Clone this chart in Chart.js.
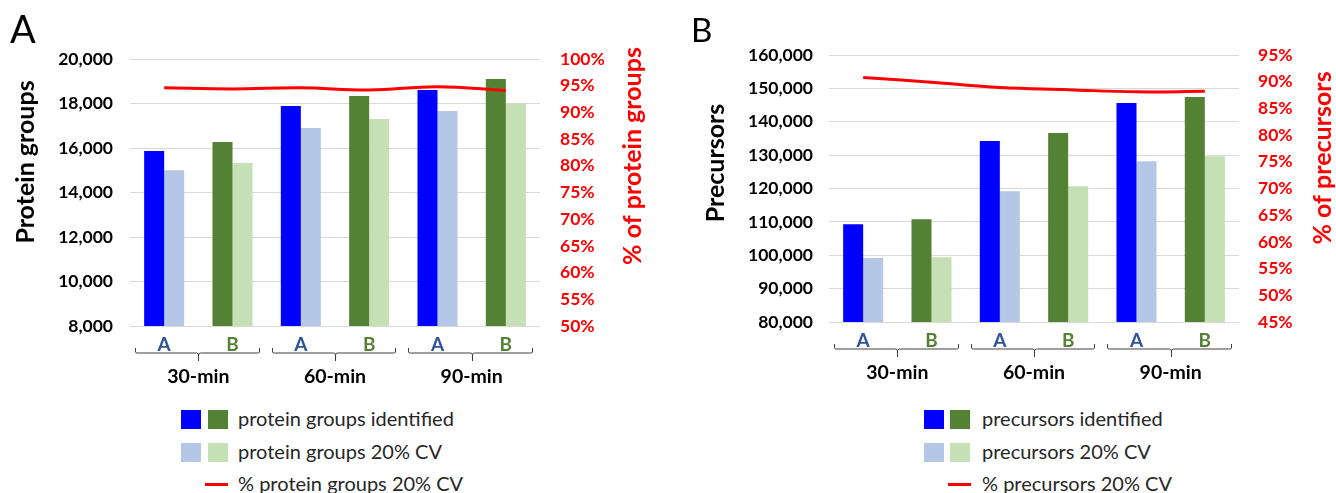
<!DOCTYPE html>
<html>
<head>
<meta charset="utf-8">
<script src="https://cdn.jsdelivr.net/npm/chart.js@4.4.1/dist/chart.umd.min.js"></script>
<style>
  body { margin: 0; background: #fff; }
  #page { position: relative; width: 1336px; height: 493px; overflow: hidden; }
  .panel { position: absolute; top: 0; width: 668px; height: 400px; }
  .sw { position: absolute; width: 20px; height: 19px; }
  .ln { position: absolute; height: 3px; width: 23px; background: #FF0000; }
  .lt { position: absolute; font-family: Lato; font-size: 20px; line-height: 24px; color: #262626; white-space: nowrap; }
</style>
</head>
<body>
<div id="page">
  <div class="panel" style="left:0"><canvas id="chartA" width="668" height="400"></canvas></div>
  <div class="panel" style="left:668px"><canvas id="chartB" width="668" height="400"></canvas></div>

  <!-- legend A -->
  <div class="sw" style="left:181px;top:410px;background:#0000FF"></div>
  <div class="sw" style="left:208px;top:410px;background:#548235"></div>
  <div class="lt" style="left:238px;top:406px">protein groups identified</div>
  <div class="sw" style="left:181px;top:443px;background:#B4C7E7"></div>
  <div class="sw" style="left:208px;top:443px;background:#C5E0B4"></div>
  <div class="lt" style="left:238px;top:439px">protein groups 20% CV</div>
  <div class="ln" style="left:205px;top:483px"></div>
  <div class="lt" style="left:238px;top:471px">% protein groups 20% CV</div>

  <!-- legend B -->
  <div class="sw" style="left:924px;top:410px;background:#0000FF"></div>
  <div class="sw" style="left:950px;top:410px;background:#548235"></div>
  <div class="lt" style="left:982px;top:406px">precursors identified</div>
  <div class="sw" style="left:924px;top:443px;background:#B4C7E7"></div>
  <div class="sw" style="left:950px;top:443px;background:#C5E0B4"></div>
  <div class="lt" style="left:982px;top:439px">precursors 20% CV</div>
  <div class="ln" style="left:948px;top:483px"></div>
  <div class="lt" style="left:982px;top:471px">% precursors 20% CV</div>
</div>

<script>
// categories and groups
const categories = ['A', 'B', 'A', 'B', 'A', 'B'];
const groupLabels = ['30-min', '60-min', '90-min'];

// panel A - protein groups
const proteinIdentified = [15860, 16270, 17890, 18340, 18610, 19100];
const proteinCV20 = [15000, 15330, 16900, 17300, 17660, 18010];
const proteinPctCV20 = [94.6, 94.4, 94.6, 94.2, 94.8, 94.1];

// panel B - precursors
const precursorIdentified = [109300, 110800, 134200, 136600, 145600, 147400];
const precursorCV20 = [99200, 99400, 119200, 120700, 128200, 129700];
const precursorPctCV20 = [90.8, 89.9, 88.9, 88.5, 88.1, 88.2];

// colours per method
const darkColor = { A: '#0000FF', B: '#548235' };
const lightColor = { A: '#B4C7E7', B: '#C5E0B4' };
const labelColor = { A: '#2F5597', B: '#548235' };

const TICK_FONT = { family: 'Lato', size: 17.5, weight: 'bold' };

// brackets under the A/B labels, group names, axis titles and panel letter
const panelDecor = {
    id: 'panelDecor',
    afterDraw(chart, args, o) {
        const { ctx, chartArea } = chart;
        const x = chart.scales.x;
        const bottom = chartArea.bottom;
        const half = (x.getPixelForValue(1) - x.getPixelForValue(0)) / 2;
        ctx.save();

        // brackets + group names
        ctx.strokeStyle = '#404040';
        ctx.lineWidth = 1;
        ctx.fillStyle = '#000';
        ctx.font = 'bold 19.5px Lato';
        ctx.textAlign = 'center';
        ctx.textBaseline = 'middle';
        groupLabels.forEach((g, i) => {
            const c0 = x.getPixelForValue(2 * i);
            const c1 = x.getPixelForValue(2 * i + 1);
            const l = Math.round(c0 - half + 5) + 0.5;
            const r = Math.round(c1 + half - 8) + 0.5;
            const m = Math.round((c0 + c1) / 2) + 0.5;
            const yTop = bottom + 22, yMid = bottom + 27, yTip = bottom + 35;
            ctx.beginPath();
            ctx.moveTo(l, yTop);
            ctx.lineTo(l, yMid - 1);
            ctx.quadraticCurveTo(l, yMid, l + 2, yMid);
            ctx.lineTo(m - 2, yMid);
            ctx.quadraticCurveTo(m, yMid, m, yMid + 2);
            ctx.lineTo(m, yTip);
            ctx.moveTo(m, yMid + 2);
            ctx.quadraticCurveTo(m, yMid, m + 2, yMid);
            ctx.lineTo(r - 2, yMid);
            ctx.quadraticCurveTo(r, yMid, r, yMid - 1);
            ctx.lineTo(r, yTop);
            ctx.stroke();
            ctx.fillText(g, (c0 + c1) / 2, bottom + 51);
        });

        // axis titles (rotated)
        ctx.font = 'bold 25px Lato';
        ctx.textBaseline = 'alphabetic';
        [[o.leftTitle, '#000', o.leftX, o.leftY], [o.rightTitle, '#FF0000', o.rightX, o.rightY]].forEach(([t, col, bx, cy]) => {
            ctx.save();
            ctx.translate(bx, cy);
            ctx.rotate(-Math.PI / 2);
            ctx.fillStyle = col;
            ctx.fillText(t, 0, 0);
            ctx.restore();
        });

        // panel letter
        ctx.fillStyle = '#000';
        ctx.font = o.letterSize + 'px Lato';
        ctx.textAlign = 'left';
        ctx.fillText(o.letter, o.letterX, o.letterY);
        ctx.restore();
    }
};

const makeChart = (id, cfg) => {
    const fmt = (v) => v.toLocaleString('en-US');
    return new Chart(document.getElementById(id), {
        data: {
            labels: categories,
            datasets: [
                {
                    type: 'line',
                    label: cfg.pctLabel,
                    data: cfg.pct,
                    yAxisID: 'y1',
                    borderColor: '#FF0000',
                    borderWidth: 3,
                    pointRadius: 0,
                    tension: 0.4,
                    order: 0
                },
                {
                    type: 'bar',
                    label: cfg.idLabel,
                    data: cfg.identified,
                    backgroundColor: categories.map(c => darkColor[c]),
                    categoryPercentage: 0.586,
                    barPercentage: 1,
                    order: 1
                },
                {
                    type: 'bar',
                    label: cfg.cvLabel,
                    data: cfg.cv,
                    backgroundColor: categories.map(c => lightColor[c]),
                    categoryPercentage: 0.586,
                    barPercentage: 1,
                    order: 1
                }
            ]
        },
        options: {
            responsive: false,
            animation: false,
            layout: { padding: { top: cfg.top, left: 0, right: 0, bottom: 0 } },
            plugins: {
                legend: { display: false },
                tooltip: { enabled: false },
                panelDecor: cfg.decor
            },
            scales: {
                x: {
                    grid: { display: false },
                    border: { display: false },
                    ticks: {
                        padding: -1,
                        font: { family: 'Lato', size: 19, weight: 'bold' },
                        color: (ctx) => labelColor[categories[ctx.index]]
                    },
                    afterFit: (s) => { s.height = cfg.xHeight; }
                },
                y: {
                    position: 'left',
                    min: cfg.yMin, max: cfg.yMax,
                    grid: { color: '#D9D9D9', drawTicks: false },
                    border: { display: false },
                    ticks: { stepSize: cfg.yStep, padding: cfg.yPad, color: '#000', font: TICK_FONT, callback: fmt },
                    afterFit: (s) => { s.width = cfg.leftW; }
                },
                y1: {
                    position: 'right',
                    min: cfg.pMin, max: cfg.pMax,
                    grid: { display: false, drawTicks: false },
                    border: { display: false },
                    ticks: { stepSize: 5, padding: cfg.pPad, color: '#FF0000', font: TICK_FONT, callback: (v) => v + '%' },
                    afterFit: (s) => { s.width = cfg.rightW; }
                }
            }
        },
        plugins: [panelDecor]
    });
};

makeChart('chartA', {
    identified: proteinIdentified, cv: proteinCV20, pct: proteinPctCV20,
    idLabel: 'protein groups identified', cvLabel: 'protein groups 20% CV', pctLabel: '% protein groups 20% CV',
    yMin: 8000, yMax: 20000, yStep: 2000, pMin: 50, pMax: 100,
    top: 59, xHeight: 74, leftW: 130, rightW: 128, yPad: 17, pPad: 20,
    decor: {
        leftTitle: 'Protein groups', leftX: 34, leftY: 162,
        rightTitle: '% of protein groups', rightX: 641, rightY: 156,
        letter: 'A', letterSize: 38, letterX: 10, letterY: 43
    }
});

makeChart('chartB', {
    identified: precursorIdentified, cv: precursorCV20, pct: precursorPctCV20,
    idLabel: 'precursors identified', cvLabel: 'precursors 20% CV', pctLabel: '% precursors 20% CV',
    yMin: 80000, yMax: 160000, yStep: 10000, pMin: 45, pMax: 95,
    top: 55, xHeight: 78, leftW: 161, rightW: 97, yPad: 16, pPad: 19,
    decor: {
        leftTitle: 'Precursors', leftX: 56, leftY: 163,
        rightTitle: '% of precursors', rightX: 663, rightY: 158,
        letter: 'B', letterSize: 33, letterX: 23, letterY: 42
    }
});
</script>
</body>
</html>
